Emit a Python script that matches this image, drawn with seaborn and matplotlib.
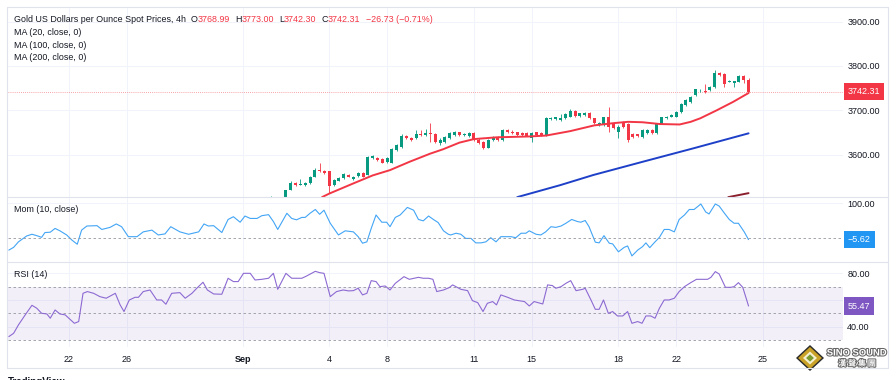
import numpy as np
import pandas as pd
import matplotlib
matplotlib.use("Agg")
import matplotlib.pyplot as plt
import matplotlib.patheffects as pe
from matplotlib.lines import Line2D
from matplotlib.patches import Polygon
import seaborn as sns

# 4h bars, bar 0 = 20 Aug 2025 00:00 (6 bars per weekday)
first_bar = 54

opens = [3498, 3502, 3497, 3503, 3520, 3537, 3532, 3532, 3536, 3550,
         3565, 3564, 3563, 3531, 3541, 3547, 3554, 3545, 3551, 3559,
         3554, 3593, 3593, 3590, 3584, 3582, 3611, 3618, 3642, 3638,
         3637, 3647, 3644, 3648, 3647, 3627, 3629, 3637, 3644, 3650,
         3645, 3642, 3648, 3634, 3629, 3616, 3633, 3639, 3633, 3655,
         3650, 3650, 3648, 3648, 3637, 3650, 3648, 3644, 3680, 3680,
         3677, 3682, 3686, 3699, 3687, 3689, 3695, 3682, 3667, 3667,
         3684, 3670, 3652, 3674, 3670, 3646, 3646, 3640, 3648, 3655,
         3649, 3670, 3683, 3686, 3686, 3697, 3712, 3719, 3734, 3745,
         3744, 3746, 3752, 3785, 3782, 3765, 3761, 3765, 3777, 3768.99]
closes = [3502, 3497, 3503, 3520, 3537, 3532, 3534, 3537, 3550, 3565,
          3563, 3559, 3529, 3543, 3548, 3556, 3550, 3550, 3559, 3550,
          3594, 3596, 3587, 3582, 3593, 3612, 3622, 3642, 3638, 3633,
          3647, 3644, 3648, 3646, 3629, 3634, 3640, 3648, 3652, 3644,
          3646, 3648, 3633, 3627, 3616, 3634, 3640, 3633, 3655, 3650,
          3648, 3644, 3644, 3643, 3648, 3644, 3643, 3682, 3682, 3684,
          3682, 3692, 3699, 3687, 3693, 3695, 3682, 3671, 3672, 3684,
          3663, 3659, 3663, 3663, 3633, 3640, 3641, 3655, 3655, 3648,
          3670, 3684, 3685, 3689, 3697, 3714, 3723, 3731, 3747, 3746,
          3742, 3752, 3785, 3780, 3759, 3767, 3765, 3777, 3769, 3742.31]
highs = [3507, 3504, 3505, 3521, 3541, 3538, 3546, 3539, 3552, 3569,
         3580, 3566, 3564, 3545, 3550, 3558, 3557, 3552, 3561, 3561,
         3597, 3599, 3595, 3593, 3595, 3614, 3624, 3647, 3644, 3640,
         3656, 3656, 3657, 3672, 3648, 3637, 3642, 3650, 3654, 3652,
         3648, 3650, 3650, 3637, 3631, 3636, 3642, 3641, 3657, 3658,
         3656, 3652, 3650, 3650, 3650, 3652, 3650, 3684, 3684, 3686,
         3692, 3694, 3702, 3700, 3695, 3697, 3697, 3683, 3674, 3686,
         3708, 3672, 3667, 3676, 3672, 3648, 3647, 3657, 3657, 3657,
         3672, 3686, 3687, 3691, 3699, 3716, 3725, 3733, 3749, 3748,
         3759, 3754, 3791, 3787, 3784, 3769, 3767, 3779, 3779, 3773.00]
lows = [3494, 3492, 3494, 3500, 3519, 3530, 3531, 3530, 3534, 3549,
        3561, 3557, 3513, 3529, 3540, 3545, 3549, 3543, 3550, 3549,
        3553, 3591, 3585, 3580, 3582, 3580, 3609, 3616, 3636, 3631,
        3635, 3642, 3642, 3629, 3627, 3622, 3627, 3635, 3642, 3643,
        3643, 3640, 3631, 3625, 3613, 3614, 3631, 3631, 3631, 3648,
        3646, 3643, 3642, 3641, 3629, 3642, 3641, 3642, 3677, 3678,
        3675, 3680, 3684, 3685, 3685, 3687, 3680, 3669, 3665, 3665,
        3652, 3657, 3637, 3661, 3629, 3638, 3639, 3638, 3646, 3646,
        3647, 3668, 3681, 3684, 3684, 3695, 3710, 3717, 3732, 3742,
        3738, 3744, 3750, 3778, 3753, 3763, 3752, 3763, 3761, 3742.30]

# moving averages (bar position, value)
ma20_bar = [64.5, 66, 71, 75, 78.6, 82.7, 86.9, 89.6, 93, 96, 100.7, 107.6, 111,
            116, 121, 125, 128, 131, 134.6, 138.7, 141, 143, 146.4, 149.8, 153]
ma20_val = [3504, 3512, 3535, 3553, 3565, 3584, 3602, 3612, 3627, 3635, 3639, 3641, 3643,
            3653, 3666, 3671, 3674, 3673, 3669, 3668, 3674, 3682, 3700, 3719, 3739]
ma100_bar = [105, 113.9, 120.8, 131.1, 141.5, 153]
ma100_val = [3504, 3531, 3554, 3584, 3614, 3648]
ma200_bar = [148.8, 153]
ma200_val = [3504, 3513]

mom_bar = [-0.5, 0.5, 1.5, 3.2, 4.3, 5.3, 6.3, 7.0, 8.1, 9.1, 10.1, 11.5, 12.6, 13.7, 14.6,
           15.7, 17.8, 18.8, 20.5, 21.8, 22.9, 24.3, 26.1, 27.4, 29.2, 30.5, 31.9, 33.1,
           35.0, 36.8, 38.9, 40.0, 40.9, 42.0, 43.7, 45.0, 46.1, 47.5, 48.5, 49.6, 51.0,
           52.0, 53.4, 54.4, 55.3, 57.2, 58.2, 59.2, 60.3, 61.0, 62.0, 63.1, 64.0, 64.9,
           66.2, 67.9, 69.3, 71.0, 72.0, 72.9, 73.8, 74.7, 75.7, 76.9, 77.9, 78.6, 79.7,
           80.7, 82.2, 83.5, 84.5, 85.5, 86.6, 87.6, 88.6, 89.7, 90.7,
           91.2, 92.3, 93.3, 94.3, 95.4, 96.4, 97.5, 98.5, 99.5, 100.6, 101.6, 102.6,
           103.7, 104.7, 105.8, 106.8, 107.5, 108.9, 109.9, 110.9, 112.0, 113.0, 114.1,
           115.1, 116.3, 117.5, 118.2, 119.1, 119.9, 121.2, 122.0, 123.0, 124.1, 124.8,
           126.0, 127.2, 127.9, 128.8, 130.0, 131.0, 131.7, 132.5, 133.4, 134.5, 135.5,
           136.5, 137.6, 138.6, 139.7, 140.7, 141.7, 143.1, 144.1, 144.8, 146.1, 146.9,
           147.9, 149.0, 150.0, 150.9, 152.1, 153.0]
mom_val = [-36, -28, -12, 5, 10, 6, 1, 15, 16, 27, 20, 8, -7, -19, 22,
           34, 35, 24, 30, 40, 32, 3, 3, 17, 22, 8, 11, 32,
           17, 10, 17, 40, 34, 35, 15, 53, 61, 45, 63, 56, 56,
           64, 67, 47, 24, 71, 56, 52, 59, 59, 71, 82, 68, 80,
           42, 8, 20, 17, 3, -16, -12, 27, 66, 45, 45, 32, 59,
           66, 88, 80, 53, 49, 63, 53, 44, 20, 10,
           8, 13, 10, -2, -2, -15, -15, -12, 0, -12, 3, 3,
           3, 0, 13, 13, 20, 10, 8, 17, 32, 30, 34,
           42, 53, 47, 45, 50, 32, -13, -15, 6, -16, -18,
           -41, -28, -24, -53, -36, -26, -15, -29, -15, 1, 24,
           24, 17, 53, 66, 82, 82, 98, 75, 69, 98, 92,
           73, 53, 42, 42, 17, -5.62]

rsi_bar = [-0.5, 0.5, 1.5, 2.9, 4.3, 5.3, 6.3, 7.4, 8.1, 9.1, 10.1, 11.2, 12.2, 13.1, 14.0,
           14.9, 15.8, 17.1, 18.4, 19.7, 21.6, 22.6, 23.4, 24.5, 25.7, 26.4, 27.4, 28.8,
           30.2, 31.2, 32.1, 33.3, 35.0, 36.1, 37.5, 38.5, 39.8, 40.7, 42.0, 43.7, 45.0,
           46.1, 47.1, 48.2, 49.6, 50.6, 52.0, 53.4, 54.4, 55.3, 57.0, 58.2, 59.2, 60.3,
           61.3, 63.1, 64.0, 64.9, 66.2, 67.5, 68.9, 70.0, 71.0, 72.0, 72.9, 73.8, 74.7,
           75.7, 76.5, 77.6, 78.6, 79.7, 81.5, 82.6, 84.5, 85.5, 86.6, 87.5, 88.3, 89.7,
           90.9, 91.6, 93.3, 94.7, 95.7, 96.8, 97.9, 98.8, 99.9, 100.7, 101.6, 103.0,
           104.4, 106.5, 107.5, 108.5, 110.3, 111.3, 112.3, 113.0, 114.1, 115.1, 116.1,
           117.2, 118.6, 119.1, 120.3, 121.2, 122.0, 122.9, 123.9, 124.8, 125.8, 126.9,
           127.9, 128.8, 130.0, 130.9, 131.7, 132.7, 133.6, 134.5, 135.5, 136.5, 137.6,
           138.6, 139.7, 141.0, 142.2, 143.5, 144.5, 145.2, 146.1, 146.9, 148.2, 149.3,
           150.0, 150.9, 151.8, 153.0]
rsi_val = [32.5, 35, 41.3, 48.8, 56, 53.8, 50, 49.5, 46.3, 52.5, 49.5, 48.8, 45.5, 42.5, 43.8,
           65, 66.3, 65, 62.5, 61.3, 65, 56.3, 51.3, 60, 62, 62, 66.3, 67.5,
           60, 60, 56.8, 65, 65.5, 61.3, 65, 68.8, 73.3, 67.5, 64.5, 64.3, 76.3,
           73.8, 73.8, 80, 80, 75, 75.5, 76.3, 80, 68, 80, 76.3, 76.3, 76.3,
           78, 81.5, 80.5, 80, 62.5, 66.3, 67.5, 66.8, 67, 68.8, 63.8, 65, 74.5,
           73.8, 70, 70.5, 67.5, 72.5, 77.5, 75.5, 77, 76.3, 76.3, 75.5, 66.3, 67.5,
           69.3, 71.3, 68, 67, 59.5, 58, 51.3, 57.5, 58.8, 56.3, 63.8, 62,
           60, 58.8, 55.5, 58.8, 57, 71.3, 70.8, 68.8, 70, 72.5, 74.5,
           67, 68, 68.8, 60, 53, 53, 60, 50, 51.3, 48, 48,
           51.3, 42.5, 43.8, 42.5, 48, 48, 46.3, 53.8, 60, 60, 61.3,
           66.3, 70, 73, 75.5, 75.5, 75.5, 77, 81.3, 79.5, 69.5, 69.5,
           70, 73, 69.5, 55.47]

tick_days = ["2025-08-22", "2025-08-26", "2025-09-01", "2025-09-04", "2025-09-08",
             "2025-09-11", "2025-09-15", "2025-09-18", "2025-09-22", "2025-09-25"]
tick_text = ["22", "26", "Sep", "4", "8", "11", "15", "18", "22", "25"]
price_ticks = [3600, 3700, 3800, 3900]
mom_ticks = [100]
rsi_ticks = [40, 60, 80]
last_ohlc = {"O": 3768.99, "H": 3773.00, "L": 3742.30, "C": 3742.31}
last_chg, last_pct = -26.73, -0.71
mom_last, rsi_last = -5.62, 55.47

sns.set_theme(style="white")
plt.rcParams["font.family"] = ["Liberation Sans", "DejaVu Sans"]

TXT = "#131722"
GREEN = "#089981"
RED = "#F23645"
GRID = "#f0f3fa"
EDGE = "#e0e3eb"
MOMC = "#42A5F5"
RSIC = "#7E57C2"
FS = 6.4      # legend text
AX_FS = 6.5   # scale labels

W, H = 896, 380
fig = plt.figure(figsize=(W / 100, H / 100), dpi=100)
fig.patch.set_facecolor("white")


def px_axes(x0, y0, x1, y1):
    return fig.add_axes([x0 / W, 1 - y1 / H, (x1 - x0) / W, (y1 - y0) / H])


ax_p = px_axes(8, 8, 843, 197)
ax_m = px_axes(8, 197, 843, 262)
ax_r = px_axes(8, 262, 843, 347)

days = pd.bdate_range("2025-08-20", "2025-09-30")
bar_times = pd.DatetimeIndex([d + pd.Timedelta(hours=h) for d in days for h in range(0, 24, 4)])
tick_pos = [bar_times.get_loc(pd.Timestamp(d)) for d in tick_days]

for ax in (ax_p, ax_m, ax_r):
    for s in ax.spines.values():
        s.set_visible(False)
    ax.set_xlim(-0.67, 172.6)
    ax.set_xticks(tick_pos)
    ax.grid(True, color=GRID, lw=0.7)
    ax.set_axisbelow(True)
    ax.yaxis.tick_right()
    ax.tick_params(axis="y", length=0, pad=3, labelsize=AX_FS, labelcolor=TXT)
    ax.tick_params(axis="x", length=0, labelbottom=False)

# ---- price pane ----
bars = pd.DataFrame({"bar": np.arange(first_bar, first_bar + len(closes)),
                     "open": opens, "high": highs, "low": lows, "close": closes})
colors = np.where(bars["close"] >= bars["open"], GREEN, RED)
ax_p.vlines(bars["bar"], bars["low"], bars["high"], colors=colors, lw=0.6, zorder=3)
ax_p.bar(bars["bar"], (bars["close"] - bars["open"]).abs().clip(lower=0.8),
         bottom=bars[["open", "close"]].min(axis=1), width=0.62, color=colors, lw=0, zorder=3)

ma = pd.concat([
    pd.DataFrame({"bar": ma20_bar, "val": ma20_val, "ma": "20"}),
    pd.DataFrame({"bar": ma100_bar, "val": ma100_val, "ma": "100"}),
    pd.DataFrame({"bar": ma200_bar, "val": ma200_val, "ma": "200"}),
])
sns.lineplot(data=ma, x="bar", y="val", hue="ma", palette={"20": RED, "100": "#1E40C8", "200": "#8B1E2D"},
             estimator=None, sort=False, lw=1.4, legend=False, ax=ax_p, zorder=4)
ax_p.axhline(last_ohlc["C"], color=RED, ls=(0, (1, 1.5)), lw=0.6, alpha=0.6, zorder=2)
ax_p.set_ylim(3504.3, 3930.9)
ax_p.set_yticks(price_ticks)
ax_p.set_yticklabels([f"{v:.2f}" for v in price_ticks])

# ---- momentum pane ----
sns.lineplot(x=mom_bar, y=mom_val, color=MOMC, lw=0.8, estimator=None, sort=False, ax=ax_m)
ax_m.axhline(0, color="#9598a1", ls=(0, (3, 3)), lw=0.6)
ax_m.set_ylim(-70.6, 118.3)
ax_m.set_yticks(mom_ticks)
ax_m.set_yticklabels([f"{v:.2f}" for v in mom_ticks])

# ---- RSI pane ----
ax_r.axhspan(30, 70, color=RSIC, alpha=0.09, lw=0)
for lvl in (70, 50, 30):
    ax_r.axhline(lvl, color="#9598a1", ls=(0, (3, 3)), lw=0.6)
sns.lineplot(x=rsi_bar, y=rsi_val, color="#8c6ad2", lw=0.8, estimator=None, sort=False, ax=ax_r)
ax_r.set_ylim(24.7, 88.5)
ax_r.set_yticks(rsi_ticks)
ax_r.set_yticklabels([f"{v:.2f}" for v in rsi_ticks])
ax_r.set_xticks(tick_pos)
ax_r.set_xticklabels(tick_text)
ax_r.tick_params(axis="x", labelbottom=True, pad=6, labelsize=AX_FS, labelcolor=TXT)
for lbl in ax_r.get_xticklabels():
    if lbl.get_text() == "Sep":
        lbl.set_fontweight("bold")

for ax in (ax_p, ax_m, ax_r):
    ax.set(xlabel=None, ylabel=None)


def tag(ax, y, text, color):
    ax.text(1.0055, y, text, transform=ax.get_yaxis_transform(), ha="left", va="center",
            color="white", fontsize=AX_FS, zorder=10, clip_on=False,
            bbox=dict(boxstyle="square,pad=0.45", fc=color, ec="none"))


tag(ax_p, last_ohlc["C"], f"{last_ohlc['C']:.2f}", RED)
tag(ax_m, mom_last, f"\u2212{abs(mom_last):.2f}", "#2196F3")
tag(ax_r, rsi_last, f"{rsi_last:.2f}", RSIC)


# ---- legends ----
def chain(x_px, y_px, parts):
    prev = fig.text(x_px / W, 1 - y_px / H, parts[0][0], color=parts[0][1], fontsize=FS,
                    ha="left", va="center")
    for text, color, gap in parts[1:]:
        prev = ax_p.annotate(text, xy=(1, 0.5), xycoords=prev, xytext=(gap * 0.72, 0),
                             textcoords="offset points", color=color, fontsize=FS,
                             ha="left", va="center", annotation_clip=False)


title_parts = [("Gold US Dollars per Ounce Spot Prices, 4h", TXT, 0)]
for k, v in last_ohlc.items():
    title_parts += [(k, TXT, 5), (f"{v:.2f}", RED, 0)]
title_parts.append((f"\u2212{abs(last_chg):.2f} (\u2212{abs(last_pct):.2f}%)", RED, 5))
chain(14, 19, title_parts)
chain(14, 32.5, [("MA (20, close, 0)", TXT, 0)])
chain(14, 45, [("MA (100, close, 0)", TXT, 0)])
chain(14, 57.5, [("MA (200, close, 0)", TXT, 0)])
chain(14, 209, [("Mom (10, close)", TXT, 0), (f"\u2212{abs(mom_last):.2f}", MOMC, 5)])
chain(14, 274.5, [("RSI (14)", TXT, 0), (f"{rsi_last:.2f}", "#8c6ad2", 5)])

# ---- frame & separators ----
for y in (7, 197, 262, 368):
    fig.add_artist(Line2D([7 / W, 888 / W], [1 - y / H] * 2, color=EDGE, lw=0.8))
for x in (7, 888):
    fig.add_artist(Line2D([x / W] * 2, [1 - 7 / H, 1 - 368 / H], color=EDGE, lw=0.8))

fig.text(8 / W, 1 - 382 / H, "TradingView", color=TXT, fontsize=7, fontweight="bold",
         ha="left", va="center")

# ---- watermark ----
logo = px_axes(796, 345, 824, 371)
logo.set_xlim(-1, 1)
logo.set_ylim(-1, 1)
logo.axis("off")
logo.add_patch(Polygon([[0, 1], [1, 0], [0, -1], [-1, 0]], fc="#2b2b2b", ec="none"))
logo.add_patch(Polygon([[0, 0.85], [0.85, 0], [0, -0.85], [-0.85, 0]], fc="#c9a227", ec="none"))
logo.add_patch(Polygon([[0, 0.5], [0.5, 0], [0, -0.5], [-0.5, 0]], fc="#f4efcf", ec="none"))
logo.add_patch(Polygon([[0, 0.28], [0.28, 0], [0, -0.28], [-0.28, 0]], fc="#7a9a2e", ec="none"))
stroke = [pe.withStroke(linewidth=1.5, foreground="#666666")]
fig.text(857 / W, 1 - 353 / H, "SINO SOUND", color="white", fontsize=6.8, fontweight="bold",
         ha="center", va="center", path_effects=stroke)
fig.text(857 / W, 1 - 363.5 / H, "漢 聲 集 團", color="white", fontsize=5.8, fontweight="bold",
         ha="center", va="center", path_effects=stroke,
         family=["Noto Sans CJK TC", "DejaVu Sans"])

fig.savefig("out.png", dpi=100)
